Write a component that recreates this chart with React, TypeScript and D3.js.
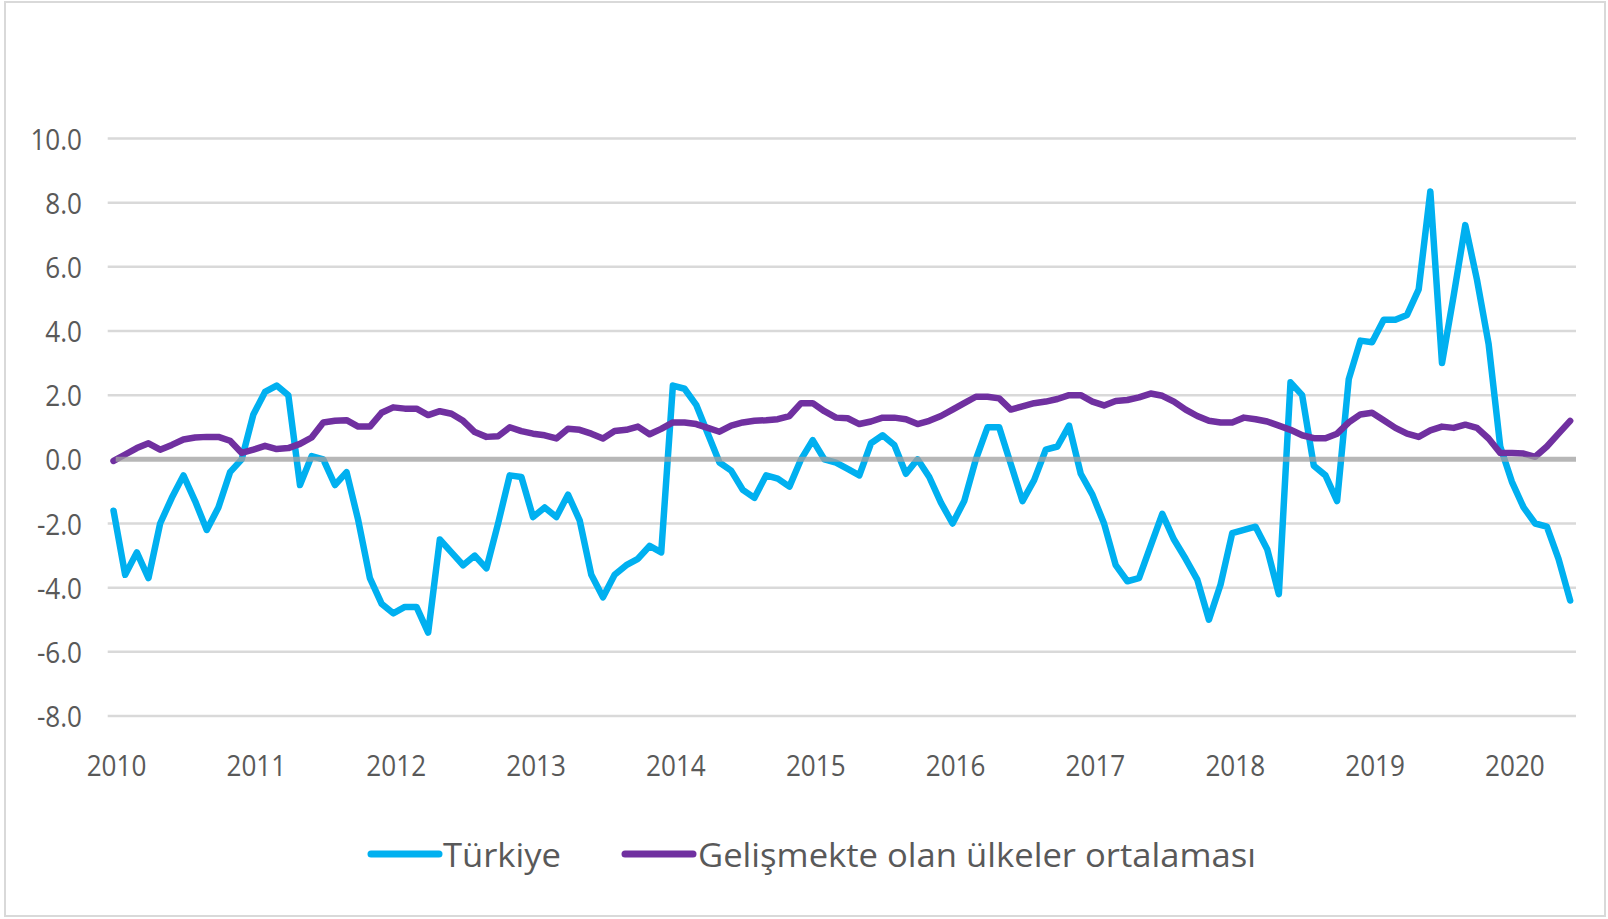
import React from "react";
import * as d3 from "d3";

const yearLabels = ["2010","2011","2012","2013","2014","2015","2016","2017","2018","2019","2020"];
const yTicks = [-8, -6, -4, -2, 0, 2, 4, 6, 8, 10];
const seriesNames = ["Türkiye", "Gelişmekte olan ülkeler ortalaması"];
const seriesColors = ["#00b0f0", "#7030a0"];

// Monthly values, Jan 2010 – Jun 2020
const turkiye = [
  -1.6, -3.6, -2.9, -3.7, -2.0, -1.2, -0.5, -1.3, -2.2, -1.5, -0.4, 0.0,
  1.4, 2.1, 2.3, 2.0, -0.8, 0.1, 0.0, -0.8, -0.4, -1.9, -3.7, -4.5,
  -4.8, -4.6, -4.6, -5.4, -2.5, -2.9, -3.3, -3.0, -3.4, -2.0, -0.5, -0.55,
  -1.8, -1.5, -1.8, -1.1, -1.9, -3.6, -4.3, -3.6, -3.3, -3.1, -2.7, -2.9,
  2.3, 2.2, 1.7, 0.8, -0.1, -0.35, -0.95, -1.2, -0.5, -0.6, -0.85, 0.0,
  0.6, 0.0, -0.1, -0.3, -0.5, 0.5, 0.75, 0.45, -0.45, 0.0, -0.55, -1.35,
  -2.0, -1.3, 0.0, 1.0, 1.0, -0.15, -1.3, -0.65, 0.3, 0.4, 1.05, -0.45,
  -1.1, -2.0, -3.3, -3.8, -3.7, -2.7, -1.7, -2.5, -3.1, -3.75, -5.0, -3.9,
  -2.3, -2.2, -2.1, -2.8, -4.2, 2.4, 2.0, -0.2, -0.5, -1.3, 2.5, 3.7,
  3.65, 4.35, 4.35, 4.5, 5.3, 8.35, 3.0, 5.1, 7.3, 5.6, 3.6, 0.4,
  -0.7, -1.5, -2.0, -2.1, -3.1, -4.4,
];

const gelismekte = [
  -0.05, 0.15, 0.35, 0.5, 0.3, 0.45, 0.62, 0.68, 0.7, 0.7, 0.58, 0.2,
  0.3, 0.42, 0.32, 0.35, 0.48, 0.68, 1.15, 1.2, 1.22, 1.02, 1.02, 1.45,
  1.62, 1.58, 1.58, 1.38, 1.5, 1.42, 1.2, 0.85, 0.7, 0.72, 1.0, 0.88,
  0.8, 0.75, 0.65, 0.95, 0.92, 0.8, 0.65, 0.88, 0.92, 1.02, 0.78, 0.95,
  1.15, 1.15, 1.1, 0.98, 0.86, 1.05, 1.15, 1.2, 1.22, 1.25, 1.35, 1.75,
  1.75, 1.5, 1.3, 1.28, 1.1, 1.18, 1.3, 1.3, 1.25, 1.1, 1.2, 1.35,
  1.55, 1.75, 1.95, 1.95, 1.9, 1.55, 1.65, 1.75, 1.8, 1.88, 2.0, 2.0,
  1.8, 1.68, 1.82, 1.85, 1.93, 2.05, 1.98, 1.8, 1.55, 1.35, 1.2, 1.15,
  1.15, 1.3, 1.25, 1.18, 1.05, 0.92, 0.75, 0.66, 0.66, 0.8, 1.15, 1.4,
  1.45, 1.22, 0.98, 0.8, 0.7, 0.9, 1.02, 0.98, 1.08, 0.98, 0.65, 0.2,
  0.2, 0.18, 0.08, 0.4, 0.8, 1.2,
];

const W = 1608;
const H = 919;
const plotLeft = 107.7;
const plotRight = 1576;
const textColor = "#595959";
const font = "'Open Sans', sans-serif";

export default function App() {
  const idx = turkiye.map((_, i) => i);
  const x = d3.scalePoint<number>().domain(idx).range([plotLeft, plotRight]).padding(0.5);
  const y = d3.scaleLinear().domain([-8, 10]).range([716, 138.5]);

  const line = d3
    .line<number>()
    .x((_, i) => x(i) as number)
    .y((d) => y(d));

  const series = [turkiye, gelismekte];

  return (
    <svg
      width={W}
      height={H}
      style={{ position: "absolute", left: 0, top: 0, background: "#fff" }}
      fontFamily={font}
    >
      <rect x={0} y={0} width={W} height={H} fill="#fff" />
      <rect x={5} y={2} width={1600} height={914} fill="none" stroke="#d9d9d9" strokeWidth={2} />
      {yTicks.filter((t) => t !== 0).map((t) => (
        <line key={t} x1={plotLeft} x2={plotRight} y1={y(t)} y2={y(t)} stroke="#d9d9d9" strokeWidth={2.5} />
      ))}
      {yTicks.map((t) => (
        <text
          key={"l" + t}
          transform={`translate(82,${y(t)}) scale(0.9,1)`}
          textAnchor="end"
          dominantBaseline="central"
          fontSize={29}
          fill={textColor}
        >
          {t.toFixed(1)}
        </text>
      ))}
      {yearLabels.map((lab, k) => (
        <text
          key={lab}
          transform={`translate(${(x(k * 12) as number) + 3},765) scale(0.9,1)`}
          textAnchor="middle"
          dominantBaseline="central"
          fontSize={29}
          fill={textColor}
        >
          {lab}
        </text>
      ))}
      {series.map((s, k) => (
        <path
          key={k}
          d={line(s) || ""}
          fill="none"
          stroke={seriesColors[k]}
          strokeWidth={6.5}
          strokeLinejoin="round"
          strokeLinecap="round"
        />
      ))}
      <line x1={plotLeft + 8} x2={plotRight} y1={y(0)} y2={y(0)} stroke="#a0a0a0" strokeWidth={5} opacity={0.75} />
      {/* legend */}
      <g>
        <line x1={371} x2={439} y1={854} y2={854} stroke={seriesColors[0]} strokeWidth={7} strokeLinecap="round" />
        <text x={443} y={854} dominantBaseline="central" fontSize={33} fill={textColor} textLength={118} lengthAdjust="spacingAndGlyphs">
          {seriesNames[0]}
        </text>
        <line x1={625} x2={693} y1={854} y2={854} stroke={seriesColors[1]} strokeWidth={7} strokeLinecap="round" />
        <text x={698} y={854} dominantBaseline="central" fontSize={33} fill={textColor} textLength={558} lengthAdjust="spacingAndGlyphs">
          {seriesNames[1]}
        </text>
      </g>
    </svg>
  );
}
